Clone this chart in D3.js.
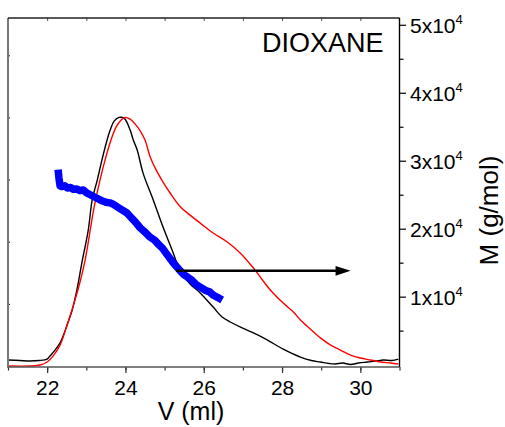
<!DOCTYPE html>
<html lang="en">
<head>
    <meta charset="UTF-8">
    <title>dioxane sec</title>
    <script src="https://d3js.org/d3.v7.min.js"></script>
    <style>
        body { margin: 0; background: #fff; }
        text { font-family: "Liberation Sans", Arial, sans-serif; fill: #000; }
    </style>
</head>
<body>
    <svg width="505" height="427"></svg>
    <script>
        // chromatogram, black trace (V in ml, normalised intensity)
        const blackV = [21.0, 21.3, 21.56, 21.8, 22.0, 22.07, 22.2, 22.33, 22.51, 22.64, 22.76, 22.89, 23.05, 23.15, 23.28, 23.40, 23.51, 23.61, 23.71, 23.84, 23.97, 24.12, 24.20, 24.30, 24.45, 24.71, 24.96, 25.22, 25.40, 25.65, 25.91, 26.24, 26.47, 26.68, 26.98, 27.27, 27.62, 28.03, 28.47, 28.75, 28.98, 29.2, 29.36, 29.55, 29.75, 29.95, 30.18, 30.4, 30.59, 30.8, 30.97];
        const blackI = [0.024, 0.022, 0.020, 0.022, 0.028, 0.040, 0.064, 0.093, 0.165, 0.225, 0.306, 0.418, 0.547, 0.668, 0.748, 0.829, 0.897, 0.949, 0.985, 1.0, 0.996, 0.949, 0.909, 0.869, 0.776, 0.668, 0.559, 0.455, 0.382, 0.330, 0.294, 0.237, 0.197, 0.177, 0.153, 0.133, 0.105, 0.068, 0.036, 0.022, 0.016, 0.010, 0.008, 0.012, 0.006, 0.012, 0.016, 0.020, 0.024, 0.022, 0.028];

        // chromatogram, red trace
        const redV = [21.0, 21.56, 21.82, 22.0, 22.15, 22.33, 22.51, 22.71, 22.84, 22.97, 23.20, 23.35, 23.48, 23.63, 23.76, 23.89, 23.99, 24.12, 24.25, 24.38, 24.50, 24.63, 24.76, 24.96, 25.14, 25.40, 25.65, 25.91, 26.24, 26.60, 26.93, 27.27, 27.50, 27.70, 28.03, 28.29, 28.47, 28.72, 28.98, 29.24, 29.49, 29.75, 30.0, 30.26, 30.51, 30.77, 30.97];
        const redI = [0.0, 0.0, 0.004, 0.016, 0.040, 0.084, 0.165, 0.265, 0.338, 0.426, 0.639, 0.748, 0.829, 0.909, 0.961, 0.990, 1.0, 0.993, 0.973, 0.945, 0.909, 0.842, 0.796, 0.740, 0.696, 0.641, 0.607, 0.575, 0.535, 0.499, 0.455, 0.394, 0.346, 0.306, 0.253, 0.217, 0.185, 0.149, 0.113, 0.084, 0.064, 0.044, 0.032, 0.024, 0.016, 0.012, 0.008];

        // molar mass vs elution volume (blue)
        const massV = [22.28, 22.30, 22.33, 22.37, 22.45, 22.52, 22.60, 22.66, 22.75, 22.84, 22.92, 23.00, 23.10, 23.20, 23.30, 23.40, 23.50, 23.60, 23.69, 23.79, 23.90, 24.04, 24.12, 24.25, 24.38, 24.50, 24.62, 24.75, 24.81, 24.95, 25.05, 25.22, 25.40, 25.50, 25.58, 25.70, 25.80, 25.91, 26.05, 26.15, 26.25, 26.35, 26.47];
        const massM = [28700, 27500, 26300, 26200, 26300, 26000, 26050, 25800, 25850, 25600, 25700, 25300, 25000, 24700, 24400, 24100, 23900, 23800, 23600, 23200, 22800, 22300, 21800, 21000, 20100, 19500, 18800, 18300, 17900, 17100, 16300, 15000, 13800, 13200, 12900, 12400, 11800, 11400, 10900, 10700, 10200, 9900, 9500];

        const arrowV = [25.3, 29.75];
        const arrowM = 13800;

        const xMajor = [22, 24, 26, 28, 30];
        const mMajor = [1, 2, 3, 4, 5];   // x10^4

        const margin = {top: 18, right: 105.5, bottom: 60, left: 8};
        const width = 505, height = 427;
        const svg = d3.select('svg');

        const x = d3.scaleLinear().domain([21, 31]).range([margin.left, width - margin.right]);
        const yI = d3.scaleLinear().domain([-0.004, 1.4]).range([height - margin.bottom, margin.top]);
        const yM = d3.scaleLinear().domain([-350, 51000]).range([height - margin.bottom, margin.top]);
        const x0 = margin.left, x1 = width - margin.right;
        const y0 = height - margin.bottom, y1 = margin.top;

        // curves
        const lineI = d3.line().x(d => x(d[0])).y(d => yI(d[1])).curve(d3.curveCatmullRom.alpha(0.5));
        svg.append('path')
            .attr('d', lineI(blackV.map((v, i) => [v, blackI[i]])))
            .attr('fill', 'none').attr('stroke', '#000').attr('stroke-width', 1.4);
        svg.append('path')
            .attr('d', lineI(redV.map((v, i) => [v, redI[i]])))
            .attr('fill', 'none').attr('stroke', '#ff0000').attr('stroke-width', 1.4);

        const lineM = d3.line().x(d => x(d[0])).y(d => yM(d[1]));
        svg.append('path')
            .attr('d', lineM(massV.map((v, i) => [v, massM[i]])))
            .attr('fill', 'none').attr('stroke', '#0000ff').attr('stroke-width', 7.5)
            .attr('stroke-linejoin', 'round');

        // arrow to the right axis
        const ax0 = x(arrowV[0]), ax1 = x(arrowV[1]), ay = yM(arrowM);
        svg.append('line')
            .attr('x1', ax0).attr('x2', ax1 - 12).attr('y1', ay).attr('y2', ay)
            .attr('stroke', '#000').attr('stroke-width', 2.5);
        svg.append('path')
            .attr('d', `M${ax1},${ay} L${ax1 - 15},${ay - 4.8} L${ax1 - 15},${ay + 4.8} Z`)
            .attr('fill', '#000');

        // frame and axes
        // bottom: major + minor, outward
        svg.append('g').attr('transform', `translate(0,${y0})`)
            .call(d3.axisBottom(x).tickValues(d3.range(21, 32, 1)).tickSize(3.5).tickFormat(''))
            .call(g => g.select('.domain').remove())
            .call(g => g.selectAll('line').attr('stroke', '#333').attr('stroke-width', 1.2));
        svg.append('g').attr('transform', `translate(0,${y0})`)
            .call(d3.axisBottom(x).tickValues(xMajor).tickSize(6).tickFormat(d3.format('d')))
            .call(g => g.select('.domain').remove())
            .call(g => g.selectAll('line').attr('stroke', '#333').attr('stroke-width', 1.2))
            .call(g => g.selectAll('text').attr('y', 28).attr('dy', null)
                .style('font-size', '21px').style('font-family', '"Liberation Sans", Arial, sans-serif'));

        // top: inward ticks
        svg.append('g').attr('transform', `translate(0,${y1})`)
            .call(d3.axisBottom(x).tickValues(d3.range(22, 31, 1)).tickSize(3).tickFormat(''))
            .call(g => g.select('.domain').remove())
            .call(g => g.selectAll('line').attr('stroke', '#555'));

        // left (hidden intensity axis): tiny inward ticks
        svg.append('g').attr('transform', `translate(${x0},0)`)
            .call(d3.axisRight(yI).tickValues([0.25, 0.5, 0.75, 1, 1.25]).tickSize(2).tickFormat(''))
            .call(g => g.select('.domain').remove())
            .call(g => g.selectAll('line').attr('stroke', '#000'));

        // right: molar mass axis, outward
        svg.append('g').attr('transform', `translate(${x1},0)`)
            .call(d3.axisRight(yM).tickValues(d3.range(5000, 51000, 10000)).tickSize(4).tickFormat(''))
            .call(g => g.select('.domain').remove())
            .call(g => g.selectAll('line').attr('stroke', '#000').attr('stroke-width', 1.2));
        svg.append('g').attr('transform', `translate(${x1},0)`)
            .call(d3.axisRight(yM).tickValues(mMajor.map(d => d * 1e4)).tickSize(6.5).tickFormat(''))
            .call(g => g.select('.domain').remove())
            .call(g => g.selectAll('line').attr('stroke', '#000').attr('stroke-width', 1.2));

        const mLab = svg.append('g').selectAll('text').data(mMajor).join('text')
            .attr('x', x1 + 10.5).attr('y', d => yM(d * 1e4) + 8.5)
            .style('font-size', '21px');
        mLab.append('tspan').text(d => d + 'x10');
        mLab.append('tspan').attr('dy', -9).style('font-size', '13px').text('4');

        // box lines
        svg.append('line').attr('x1', x0).attr('x2', x0).attr('y1', y1).attr('y2', y0 + 1)
            .attr('stroke', '#777').attr('stroke-width', 2);
        svg.append('line').attr('x1', x0).attr('x2', x1).attr('y1', y0).attr('y2', y0)
            .attr('stroke', '#555').attr('stroke-width', 1.6);
        svg.append('line').attr('x1', x0).attr('x2', x1).attr('y1', y1).attr('y2', y1)
            .attr('stroke', '#222').attr('stroke-width', 1.4);
        svg.append('line').attr('x1', x1).attr('x2', x1).attr('y1', y1).attr('y2', y0)
            .attr('stroke', '#000').attr('stroke-width', 1.4);

        // labels
        svg.append('text').attr('x', 383.5).attr('y', 52)
            .attr('text-anchor', 'end').style('font-size', '27px').text('DIOXANE');
        svg.append('text').attr('x', 191).attr('y', 420)
            .attr('text-anchor', 'middle').style('font-size', '25px').text('V (ml)');
        svg.append('text').attr('transform', 'translate(498,210.5) rotate(-90)')
            .attr('text-anchor', 'middle').style('font-size', '26px').text('M (g/mol)');
    </script>
</body>
</html>
